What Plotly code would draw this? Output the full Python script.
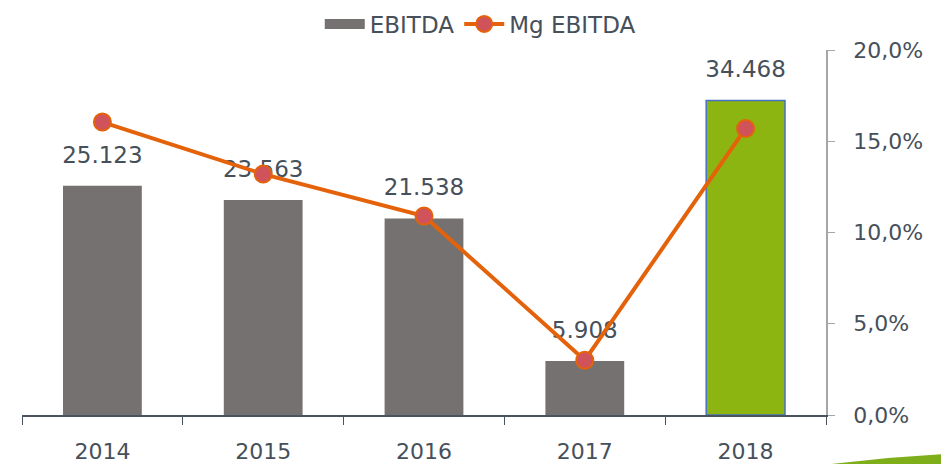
import plotly.graph_objects as go

years = ['2014', '2015', '2016', '2017', '2018']
ebitda = [25123, 23563, 21538, 5908, 34468]
mg_ebitda = [0.1605, 0.132, 0.109, 0.030, 0.157]

txt_color = '#46505a'
bar_colors = ['#767171', '#767171', '#767171', '#767171', '#8db512']
bar_edges = ['#767171', '#767171', '#767171', '#767171', '#4472c4']
bar_edge_w = [0, 0, 0, 0, 1.5]

fig = go.Figure()

fig.add_trace(go.Bar(
    x=years, y=ebitda, name='EBITDA',
    marker=dict(color=bar_colors, line=dict(color=bar_edges, width=bar_edge_w)),
    width=0.49, showlegend=False,
))

# data labels, kept under the margin line
fig.add_trace(go.Scatter(
    x=years, y=ebitda, mode='markers+text',
    text=[f'{v:,}'.replace(',', '.') for v in ebitda],
    textposition='top center',
    textfont=dict(size=23, color=txt_color, family='DejaVu Sans'),
    marker=dict(size=26, color='rgba(0,0,0,0)'),
    showlegend=False, hoverinfo='skip',
))

# wide grey swatch for the legend (the bar swatch is only a small square)
fig.add_trace(go.Scatter(
    x=[None], y=[None], name='EBITDA', mode='lines',
    line=dict(color='#767171', width=15),
))

fig.add_trace(go.Scatter(
    x=years, y=mg_ebitda, name='Mg EBITDA', yaxis='y2',
    mode='lines+markers',
    line=dict(color='#e4620a', width=4),
    marker=dict(size=17, color='#d0525a', line=dict(color='#e4620a', width=2)),
))

# page body has an 8px margin, so the figure is a bit smaller than the window
fig.update_layout(
    width=941, height=456,
    margin=dict(l=14, r=123, t=42, b=49),
    plot_bgcolor='white', paper_bgcolor='white',
    separators=',.',
    font=dict(family='DejaVu Sans', size=22, color=txt_color),
    bargap=0.51,
    showlegend=True,
    legend=dict(orientation='h', x=0.57, xanchor='center',
                yref='container', y=0.965, yanchor='middle',
                font=dict(size=23), traceorder='normal', itemwidth=40),
    xaxis=dict(showline=True, linecolor='#4a545e', linewidth=1.5,
               ticks='outside', tickson='boundaries', ticklen=8, tickcolor='#4a545e',
               ticklabelstandoff=16, showgrid=False, automargin=False),
    yaxis=dict(visible=False, range=[0, 40000], showgrid=False),
    yaxis2=dict(overlaying='y', side='right', range=[0, 0.2], dtick=0.05,
                tickformat='.1%', showline=True, linecolor='#a6a6a6', linewidth=1.5,
                ticks='outside', ticklen=7, tickcolor='#a6a6a6', showgrid=False,
                ticklabelstandoff=14, zeroline=False, automargin=False),
)

# decorative swoosh at the bottom right of the slide
fig.add_shape(type='path', xref='paper', yref='paper',
              path='M 1.0,-0.136 Q 1.08,-0.114 1.16,-0.106 L 1.16,-0.136 Z',
              fillcolor='#7fae1b', line=dict(width=0), layer='above')

fig.write_html('out.html')
